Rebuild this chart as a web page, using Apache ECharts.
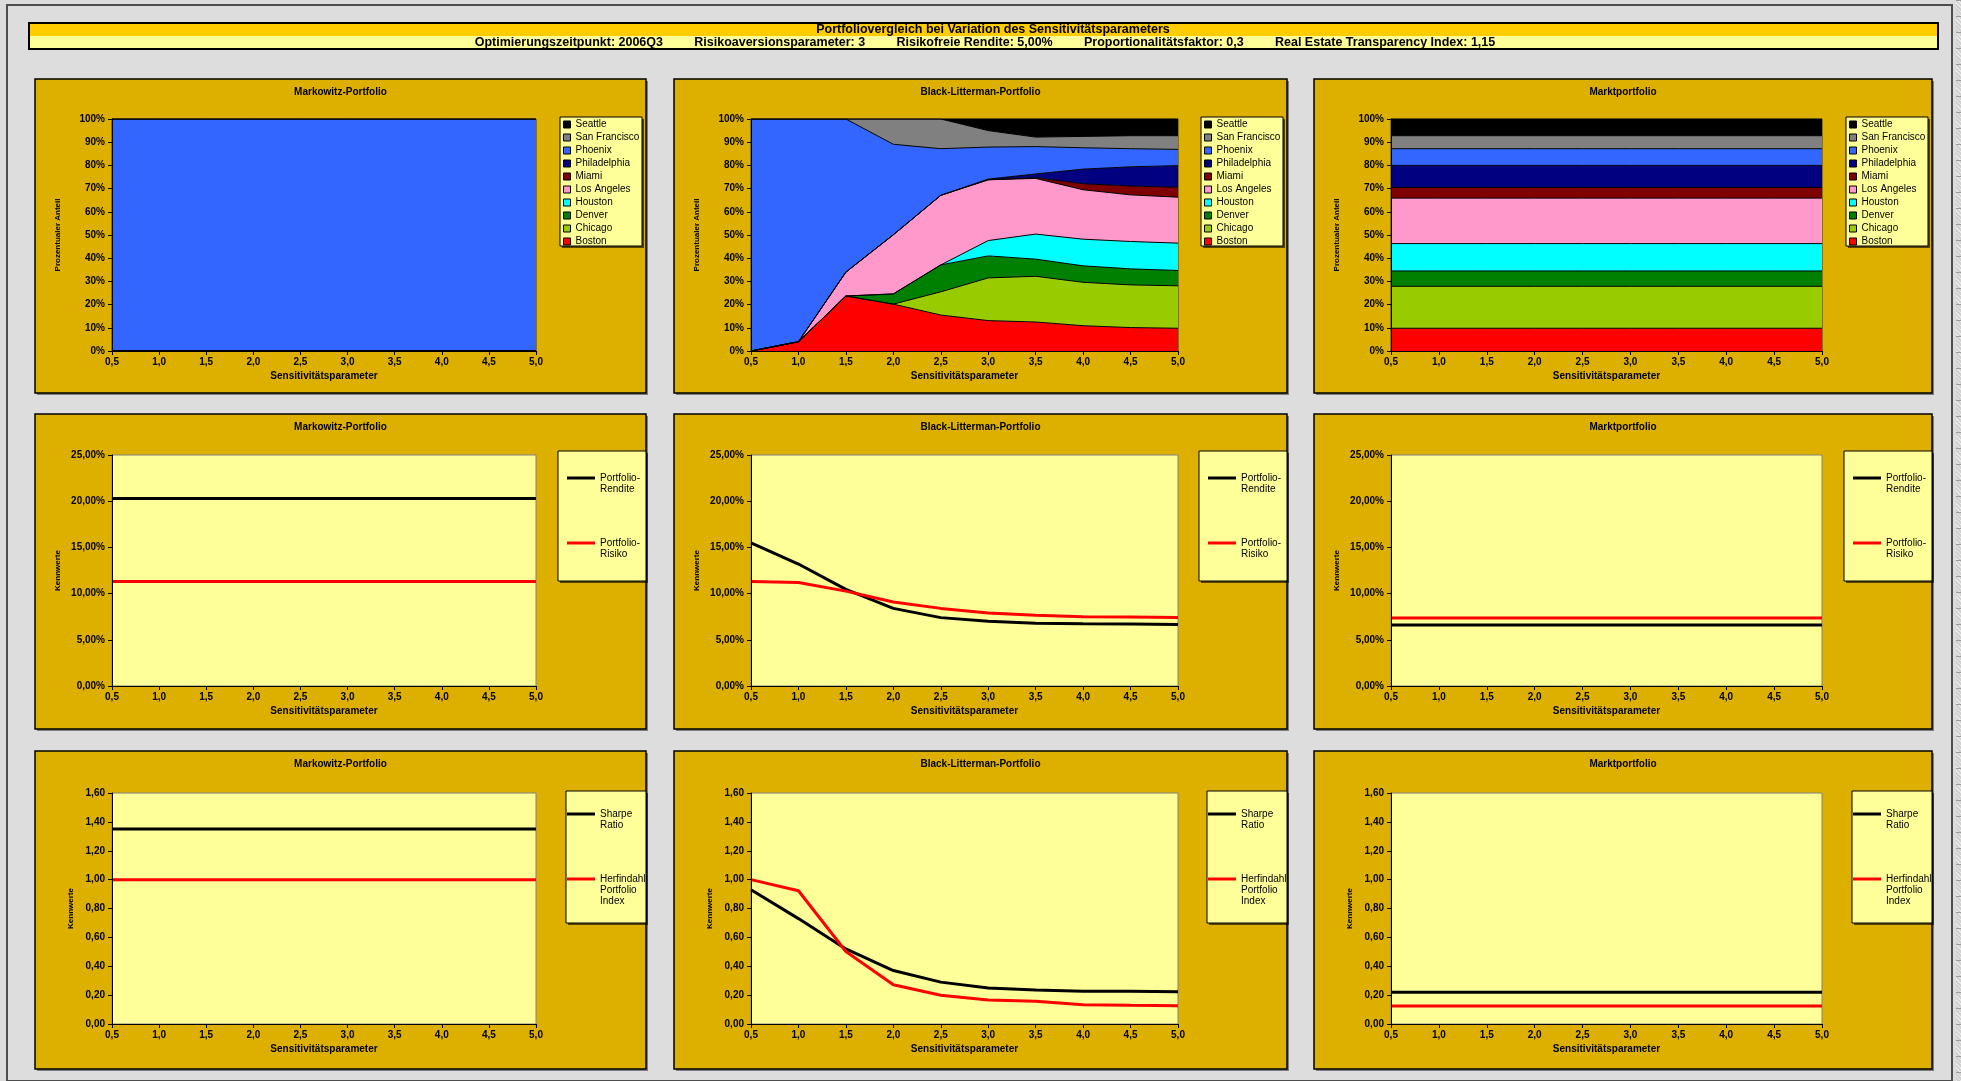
<!DOCTYPE html>
<html lang="de">
<head>
<meta charset="utf-8">
<title>Portfoliovergleich bei Variation des Sensitivitätsparameters</title>
<script src="https://cdn.jsdelivr.net/npm/echarts@6/dist/echarts.min.js"></script>
<style>
  html, body { margin: 0; padding: 0; width: 1961px; height: 1081px; overflow: hidden; background: #dcdcdc; }
  #chart { position: absolute; left: 0; top: 0; width: 1961px; height: 1081px; }
  #sheet { position: absolute; left: 1956px; top: 0; width: 5px; height: 1081px;
    background-color: #d0d0d0;
    background-image: repeating-linear-gradient(to bottom, #9c9c9c 0, #9c9c9c 1px, transparent 1px, transparent 16px),
                      repeating-linear-gradient(45deg, rgba(255,255,255,0.55) 0 1px, transparent 1px 3px); }
</style>
</head>
<body>
<div id="sheet"></div>
<div id="chart"></div>
<script>
// ---- categories -------------------------------------------------------
const sensitivity = ['0,5', '1,0', '1,5', '2,0', '2,5', '3,0', '3,5', '4,0', '4,5', '5,0'];
// stacking order, bottom to top
const cities = ['Boston', 'Chicago', 'Denver', 'Houston', 'Los Angeles', 'Miami', 'Philadelphia', 'Phoenix', 'San Francisco', 'Seattle'];

// ---- Markowitz weights (%) ---------------------------------------------
const mwBoston       = [0, 0, 0, 0, 0, 0, 0, 0, 0, 0];
const mwChicago      = [0, 0, 0, 0, 0, 0, 0, 0, 0, 0];
const mwDenver       = [0, 0, 0, 0, 0, 0, 0, 0, 0, 0];
const mwHouston      = [0, 0, 0, 0, 0, 0, 0, 0, 0, 0];
const mwLosAngeles   = [0, 0, 0, 0, 0, 0, 0, 0, 0, 0];
const mwMiami        = [0, 0, 0, 0, 0, 0, 0, 0, 0, 0];
const mwPhiladelphia = [0, 0, 0, 0, 0, 0, 0, 0, 0, 0];
const mwPhoenix      = [100, 100, 100, 100, 100, 100, 100, 100, 100, 100];
const mwSanFrancisco = [0, 0, 0, 0, 0, 0, 0, 0, 0, 0];
const mwSeattle      = [0, 0, 0, 0, 0, 0, 0, 0, 0, 0];

// ---- Black-Litterman weights (%) ---------------------------------------
const blBoston       = [0, 4.0, 23.7, 20.2, 15.5, 13.1, 12.5, 10.9, 10.1, 9.8];
const blChicago      = [0, 0, 0, 0, 10.0, 18.4, 19.7, 18.7, 18.4, 18.3];
const blDenver       = [0, 0, 0, 4.4, 11.6, 9.5, 7.4, 7.1, 6.9, 6.6];
const blHouston      = [0, 0, 0, 0, 0, 6.6, 10.8, 11.5, 11.8, 11.8];
const blLosAngeles   = [0, 0, 10.3, 25.5, 30.0, 26.2, 24.0, 21.3, 20.1, 19.8];
const blMiami        = [0, 0, 0, 0, 0, 0, 0.3, 2.6, 3.8, 4.3];
const blPhiladelphia = [0, 0, 0, 0, 0, 0.3, 1.6, 6.3, 8.3, 9.3];
const blPhoenix      = [100, 96.0, 66.0, 39.0, 20.1, 13.8, 11.8, 9.2, 7.8, 7.0];
const blSanFrancisco = [0, 0, 0, 10.9, 12.8, 7.1, 4.1, 4.9, 5.6, 5.9];
const blSeattle      = [0, 0, 0, 0, 0, 5.0, 7.8, 7.5, 7.2, 7.2];

// ---- market portfolio weights (%) --------------------------------------
const mktBoston       = [9.8, 9.8, 9.8, 9.8, 9.8, 9.8, 9.8, 9.8, 9.8, 9.8];
const mktChicago      = [18.1, 18.1, 18.1, 18.1, 18.1, 18.1, 18.1, 18.1, 18.1, 18.1];
const mktDenver       = [6.6, 6.6, 6.6, 6.6, 6.6, 6.6, 6.6, 6.6, 6.6, 6.6];
const mktHouston      = [11.8, 11.8, 11.8, 11.8, 11.8, 11.8, 11.8, 11.8, 11.8, 11.8];
const mktLosAngeles   = [19.6, 19.6, 19.6, 19.6, 19.6, 19.6, 19.6, 19.6, 19.6, 19.6];
const mktMiami        = [4.6, 4.6, 4.6, 4.6, 4.6, 4.6, 4.6, 4.6, 4.6, 4.6];
const mktPhiladelphia = [9.5, 9.5, 9.5, 9.5, 9.5, 9.5, 9.5, 9.5, 9.5, 9.5];
const mktPhoenix      = [7.2, 7.2, 7.2, 7.2, 7.2, 7.2, 7.2, 7.2, 7.2, 7.2];
const mktSanFrancisco = [5.6, 5.6, 5.6, 5.6, 5.6, 5.6, 5.6, 5.6, 5.6, 5.6];
const mktSeattle      = [7.2, 7.2, 7.2, 7.2, 7.2, 7.2, 7.2, 7.2, 7.2, 7.2];

// ---- return / risk (%) -------------------------------------------------
const mwRendite  = [20.3, 20.3, 20.3, 20.3, 20.3, 20.3, 20.3, 20.3, 20.3, 20.3];
const mwRisiko   = [11.3, 11.3, 11.3, 11.3, 11.3, 11.3, 11.3, 11.3, 11.3, 11.3];
const blRendite  = [15.5, 13.2, 10.45, 8.4, 7.4, 7.0, 6.8, 6.74, 6.7, 6.66];
const blRisiko   = [11.3, 11.2, 10.27, 9.1, 8.4, 7.9, 7.67, 7.5, 7.46, 7.42];
const mktRendite = [6.6, 6.6, 6.6, 6.6, 6.6, 6.6, 6.6, 6.6, 6.6, 6.6];
const mktRisiko  = [7.35, 7.35, 7.35, 7.35, 7.35, 7.35, 7.35, 7.35, 7.35, 7.35];

// ---- Sharpe ratio / Herfindahl index ----------------------------------
const mwSharpe  = [1.35, 1.35, 1.35, 1.35, 1.35, 1.35, 1.35, 1.35, 1.35, 1.35];
const mwHHI     = [1.0, 1.0, 1.0, 1.0, 1.0, 1.0, 1.0, 1.0, 1.0, 1.0];
const blSharpe  = [0.93, 0.73, 0.52, 0.37, 0.29, 0.25, 0.236, 0.227, 0.226, 0.224];
const blHHI     = [1.0, 0.923, 0.502, 0.272, 0.199, 0.167, 0.157, 0.134, 0.13, 0.127];
const mktSharpe = [0.22, 0.22, 0.22, 0.22, 0.22, 0.22, 0.22, 0.22, 0.22, 0.22];
const mktHHI    = [0.124, 0.124, 0.124, 0.124, 0.124, 0.124, 0.124, 0.124, 0.124, 0.124];

// ---- y-axis scales -----------------------------------------------------
const shareScale  = [0, 100, 10];
const returnScale = [0, 25, 5];
const ratioScale  = [0, 1.6, 0.2];

// ---- header texts ------------------------------------------------------
const headerTitle = 'Portfoliovergleich bei Variation des Sensitivitätsparameters';
const headerInfo = 'Optimierungszeitpunkt: 2006Q3         Risikoaversionsparameter: 3         Risikofreie Rendite: 5,00%         Proportionalitätsfaktor: 0,3         Real Estate Transparency Index: 1,15';
const panelTitles = ['Markowitz-Portfolio', 'Black-Litterman-Portfolio', 'Marktportfolio'];

// ---- styling -----------------------------------------------------------
const FONT = "'Liberation Sans', Arial, Helvetica, sans-serif";
const cityColors = ['#FF0000', '#99CC00', '#008000', '#00FFFF', '#FF99CC', '#800000', '#000080', '#3366FF', '#808080', '#000000'];
const GOLD = '#DDB000';
const PALE = '#FFFF99';

// panel frames and plot rectangles (pixels)
const panelCols = [[35, 646], [674, 1287], [1314, 1932]];
const panelRows = [[79, 393], [414, 729], [751, 1069]];
const plotCols  = [[112, 536], [751, 1178], [1391, 1822]];
const plotRows  = [[119, 351], [455, 686], [793, 1024]];
const titleRowsY = [92, 427, 764];

const weightSets = [
  [mwBoston, mwChicago, mwDenver, mwHouston, mwLosAngeles, mwMiami, mwPhiladelphia, mwPhoenix, mwSanFrancisco, mwSeattle],
  [blBoston, blChicago, blDenver, blHouston, blLosAngeles, blMiami, blPhiladelphia, blPhoenix, blSanFrancisco, blSeattle],
  [mktBoston, mktChicago, mktDenver, mktHouston, mktLosAngeles, mktMiami, mktPhiladelphia, mktPhoenix, mktSanFrancisco, mktSeattle]
];
const returnSets = [[mwRendite, mwRisiko], [blRendite, blRisiko], [mktRendite, mktRisiko]];
const ratioSets  = [[mwSharpe, mwHHI], [blSharpe, blHHI], [mktSharpe, mktHHI]];

const comma = (v, d) => v.toFixed(d).replace('.', ',');
const rowAxes = [
  { scale: shareScale,  fmt: v => Math.round(v) + '%',   name: 'Prozentualer Anteil', gap: 50 },
  { scale: returnScale, fmt: v => comma(v, 2) + '%',      name: 'Kennwerte',           gap: 50 },
  { scale: ratioScale,  fmt: v => comma(v, 2),            name: 'Kennwerte',           gap: 37 }
];

const boldText = { color: '#000', fontFamily: FONT, fontSize: 10, fontWeight: 'bold' };

const grids = [], xAxes = [], yAxes = [], series = [], legends = [], elements = [];

// page frame and header band
elements.push({ type: 'rect', z: -20, shape: { x: 7, y: 5, width: 1945, height: 1076 },
  style: { fill: '#DDDDDD', stroke: '#4d4d4d', lineWidth: 2 } });
elements.push({ type: 'rect', z: -10, shape: { x: 29, y: 23, width: 1909, height: 13 }, style: { fill: '#FFCC00' } });
elements.push({ type: 'rect', z: -10, shape: { x: 29, y: 36, width: 1909, height: 13 }, style: { fill: PALE } });
elements.push({ type: 'rect', z: -9, shape: { x: 29, y: 23, width: 1909, height: 26 },
  style: { fill: 'none', stroke: '#000', lineWidth: 2 } });
elements.push({ type: 'text', z: 10, x: 993, y: 30,
  style: { text: headerTitle, font: "bold 12.5px " + FONT, fill: '#000', align: 'center', verticalAlign: 'middle', textAlign: 'center', textVerticalAlign: 'middle' } });
elements.push({ type: 'text', z: 10, x: 985, y: 43,
  style: { text: headerInfo, font: "bold 12.5px " + FONT, fill: '#000', align: 'center', verticalAlign: 'middle', textAlign: 'center', textVerticalAlign: 'middle' } });

for (let r = 0; r < 3; r++) {
  for (let c = 0; c < 3; c++) {
    const idx = r * 3 + c;
    const [pl, pr] = panelCols[c];
    const [pt, pb] = panelRows[r];
    // panel background with drop shadow
    elements.push({ type: 'rect', z: -8, shape: { x: pl + 2, y: pt + 2, width: pr - pl, height: pb - pt }, style: { fill: '#7d7d7d' } });
    elements.push({ type: 'rect', z: -7, shape: { x: pl, y: pt, width: pr - pl, height: pb - pt },
      style: { fill: GOLD, stroke: '#000', lineWidth: 1.5 } });
    elements.push({ type: 'text', z: 10, x: (pl + pr) / 2, y: titleRowsY[r],
      style: { text: panelTitles[c], font: "bold 10px " + FONT, fill: '#000', align: 'center', verticalAlign: 'middle', textAlign: 'center', textVerticalAlign: 'middle' } });

    const [gl, gr] = plotCols[c];
    const [gt, gb] = plotRows[r];
    grids.push({
      left: gl, top: gt, width: gr - gl, height: gb - gt,
      show: true, backgroundColor: r === 0 ? '#C0C0C0' : PALE,
      borderColor: r === 0 ? '#333' : '#808080', borderWidth: 1,
      containLabel: false, outerBoundsMode: 'none'
    });
    xAxes.push({
      type: 'category', gridIndex: idx, data: sensitivity, boundaryGap: false, z: 5,
      axisLine: { show: true, onZero: false, lineStyle: { color: '#000', width: 1 } },
      axisTick: { show: true, length: 4, inside: false, interval: 0, lineStyle: { color: '#000' } },
      axisLabel: Object.assign({ margin: 6, interval: 0 }, boldText),
      splitLine: { show: false },
      name: 'Sensitivitätsparameter', nameLocation: 'middle', nameGap: 20,
      nameTextStyle: boldText
    });
    const ax = rowAxes[r];
    yAxes.push({
      type: 'value', gridIndex: idx, min: ax.scale[0], max: ax.scale[1], interval: ax.scale[2], z: 5,
      axisLine: { show: true, onZero: false, lineStyle: { color: '#000', width: 1 } },
      axisTick: { show: true, length: 4, inside: false, lineStyle: { color: '#000' } },
      axisLabel: Object.assign({ margin: 7, formatter: ax.fmt }, boldText),
      splitLine: { show: false },
      name: ax.name, nameLocation: 'middle', nameGap: ax.gap,
      nameTextStyle: { color: '#000', fontFamily: FONT, fontSize: 8, fontWeight: 'bold' }
    });

    if (r === 0) {
      const sets = weightSets[c];
      // filled layers
      cities.forEach((name, i) => {
        series.push({
          type: 'line', name, xAxisIndex: idx, yAxisIndex: idx, stack: 'share' + c, data: sets[i],
          symbol: 'none', color: cityColors[i], itemStyle: { color: cityColors[i] },
          lineStyle: { width: 0 }, areaStyle: { color: cityColors[i], opacity: 1 }, z: 2, silent: true
        });
      });
      // black outlines of each layer
      cities.forEach((name, i) => {
        series.push({
          type: 'line', xAxisIndex: idx, yAxisIndex: idx, stack: 'outline' + c, data: sets[i],
          symbol: 'none', lineStyle: { color: '#000', width: 1 }, z: 3, silent: true
        });
      });
    } else {
      const sets = r === 1 ? returnSets[c] : ratioSets[c];
      const names = r === 1 ? ['Portfolio-Rendite', 'Portfolio-Risiko'] : ['Sharpe Ratio', 'Herfindahl Portfolio Index'];
      const colors = ['#000000', '#FF0000'];
      names.forEach((name, i) => {
        series.push({
          type: 'line', name, xAxisIndex: idx, yAxisIndex: idx, data: sets[i],
          symbol: 'none', color: colors[i], itemStyle: { color: colors[i] },
          lineStyle: { color: colors[i], width: 3 }, z: 3 + i, silent: true
        });
      });
    }
  }
}

// legends; leading blank lines keep the line key level with the first text line
const legendText = { color: '#000', fontFamily: FONT, fontSize: 10 };
const legendLabels = {
  'Portfolio-Rendite': '\nPortfolio-\nRendite',
  'Portfolio-Risiko': '\nPortfolio-\nRisiko',
  'Sharpe Ratio': '\nSharpe\nRatio',
  'Herfindahl Portfolio Index': '\n\nHerfindahl\nPortfolio\nIndex'
};
const legendBox = (x, y, w, h) => {
  elements.push({ type: 'rect', z: 1, shape: { x: x + 2, y: y + 2, width: w, height: h }, style: { fill: 'rgba(0,0,0,0.6)' } });
  elements.push({ type: 'rect', z: 2, shape: { x, y, width: w, height: h }, style: { fill: PALE, stroke: '#000', lineWidth: 1 } });
};
for (let c = 0; c < 3; c++) {
  const pr = panelCols[c][1];
  // shares
  legendBox(pr - 86, 117, 82, 129);
  legends.push({
    orient: 'vertical', left: pr - 83, top: 118, padding: 0, itemWidth: 7, itemHeight: 7, itemGap: 0,
    icon: 'rect', selectedMode: false,
    itemStyle: { borderColor: '#000', borderWidth: 1, opacity: 1 },
    textStyle: Object.assign({ lineHeight: 13 }, legendText),
    data: cities.slice().reverse().map(n => ({ name: n, itemStyle: { color: cityColors[cities.indexOf(n)] } }))
  });
  // return / risk
  legendBox(pr - 88, 451, 88, 130);
  legends.push({
    orient: 'vertical', left: pr - 79, top: 478 - 16.5, padding: 0, itemWidth: 28, itemHeight: 3, itemGap: 32,
    icon: 'rect', selectedMode: false, itemStyle: { borderWidth: 0, opacity: 1 },
    formatter: n => legendLabels[n],
    textStyle: Object.assign({ lineHeight: 11 }, legendText),
    data: [{ name: 'Portfolio-Rendite', itemStyle: { color: '#000' } }, { name: 'Portfolio-Risiko', itemStyle: { color: '#FF0000' } }]
  });
  // Sharpe / Herfindahl
  legendBox(pr - 80, 791, 80, 132);
  legends.push({
    orient: 'vertical', left: pr - 79, top: 814 - 16.5, padding: 0, itemWidth: 28, itemHeight: 3, itemGap: 21,
    icon: 'rect', selectedMode: false, itemStyle: { borderWidth: 0, opacity: 1 },
    formatter: n => legendLabels[n],
    textStyle: Object.assign({ lineHeight: 11 }, legendText),
    data: [
      { name: 'Sharpe Ratio', itemStyle: { color: '#000' } },
      { name: 'Herfindahl Portfolio Index', itemStyle: { color: '#FF0000' } }
    ]
  });
}

const chart = echarts.init(document.getElementById('chart'), null, { renderer: 'canvas', width: 1961, height: 1081 });
chart.setOption({
  animation: false,
  backgroundColor: 'transparent',
  textStyle: { fontFamily: FONT },
  tooltip: { show: false },
  graphic: { elements },
  grid: grids,
  xAxis: xAxes,
  yAxis: yAxes,
  legend: legends,
  series
});
</script>
</body>
</html>
